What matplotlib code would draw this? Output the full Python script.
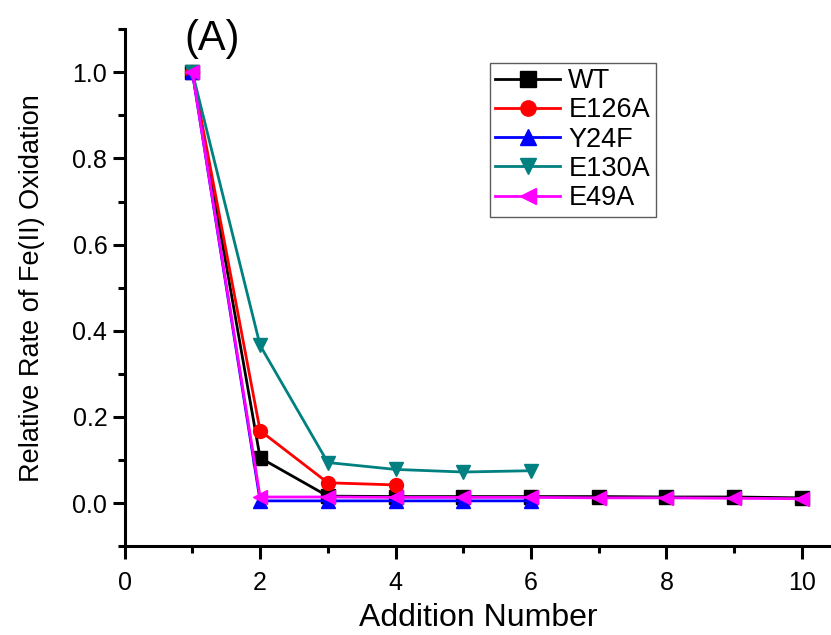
import matplotlib.pyplot as plt
from matplotlib.ticker import MultipleLocator

plt.rcParams['font.family'] = ['Liberation Sans', 'DejaVu Sans']

# data
x_wt = [1, 2, 3, 4, 5, 6, 7, 8, 9, 10]
wt = [1.0, 0.105, 0.016, 0.015, 0.015, 0.015, 0.015, 0.014, 0.014, 0.012]
x_e126a = [1, 2, 3, 4]
e126a = [1.0, 0.168, 0.047, 0.042]
x_y24f = [1, 2, 3, 4, 5, 6]
y24f = [1.0, 0.005, 0.005, 0.005, 0.005, 0.005]
x_e130a = [1, 2, 3, 4, 5, 6]
e130a = [1.0, 0.366, 0.094, 0.078, 0.072, 0.075]
x_e49a = [1, 2, 3, 4, 5, 6, 7, 8, 9, 10]
e49a = [1.0, 0.014, 0.014, 0.013, 0.013, 0.013, 0.012, 0.012, 0.011, 0.010]

fig = plt.figure(figsize=(8.31, 6.35), dpi=100)
ax = fig.add_axes([0.150, 0.140, 0.850, 0.814])

ms = 10
ax.plot(x_wt, wt, color='black', marker='s', lw=2, ms=ms, label='WT')
ax.plot(x_e126a, e126a, color='red', marker='o', lw=2, ms=ms, label='E126A')
ax.plot(x_y24f, y24f, color='blue', marker='^', lw=2, ms=ms, label='Y24F')
ax.plot(x_e130a, e130a, color='#008080', marker='v', lw=2, ms=ms, label='E130A')
ax.plot(x_e49a, e49a, color='magenta', marker='<', lw=2, ms=ms, label='E49A')

ax.set_xlim(0, 10.43)
ax.set_ylim(-0.1, 1.1)
ax.xaxis.set_major_locator(MultipleLocator(2))
ax.xaxis.set_minor_locator(MultipleLocator(1))
ax.yaxis.set_minor_locator(MultipleLocator(0.1))
ax.set_yticks([0.0, 0.2, 0.4, 0.6, 0.8, 1.0])
ax.set_yticklabels(['0.0', '0.2', '0.4', '0.6', '0.8', '1.0'])

for s in ['top', 'right']:
    ax.spines[s].set_visible(False)
for s in ['left', 'bottom']:
    ax.spines[s].set_linewidth(2.2)
ax.tick_params(which='major', direction='out', length=9, width=2.2, labelsize=18)
ax.tick_params(axis='x', which='major', pad=9)
ax.tick_params(which='minor', direction='out', length=5, width=2.2)

ax.set_xlabel('Addition Number', fontsize=23, labelpad=6)
ax.set_ylabel('Relative Rate of Fe(II) Oxidation', fontsize=19.5, labelpad=20)
fig.text(0.222, 0.922, '(A)', fontsize=30)

leg = ax.legend(loc='upper left', bbox_to_anchor=(0.517, 0.935), fontsize=19.5,
                frameon=True, fancybox=False, edgecolor='#333333',
                handlelength=2.4, borderpad=0.2, labelspacing=0.12,
                handletextpad=0.3, borderaxespad=0, markerscale=1.1)
leg.get_frame().set_linewidth(1.0)

fig.savefig('out.png', dpi=100)
